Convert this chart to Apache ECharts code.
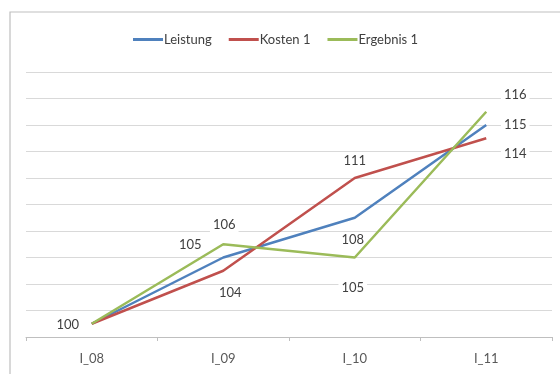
<!DOCTYPE html>
<html>
<head>
<meta charset="utf-8">
<script src="https://cdn.jsdelivr.net/npm/echarts@6/dist/echarts.min.js"></script>
<style>
  html, body { margin: 0; padding: 0; background: #ffffff; }
  #chart { width: 560px; height: 374px; }
</style>
</head>
<body>
<div id="chart"></div>
<script>
// Perioden und Indexwerte (Basis I_08 = 100)
const categories = ['I_08', 'I_09', 'I_10', 'I_11'];
const leistung = [100, 105, 108, 115];
const kosten = [100, 104, 111, 114];
const ergebnis = [100, 106, 105, 116];

const seriesNames = ['Leistung', 'Kosten 1', 'Ergebnis 1'];
const seriesColors = ['#4F81BD', '#C0504D', '#9BBB59'];

// Versatz der Wertbeschriftung gegenüber dem Datenpunkt (null = keine Beschriftung)
const labelShift = {
  'Leistung':   [[-24, 1], [-33, -13], [-2, 22], [29, 0]],
  'Kosten 1':   [null, [7, 22], [0, -17], [29, 16]],
  'Ergebnis 1': [null, [1, -19], [-2, 30], [29, -17]]
};

const fontFamily = 'Lato, "Liberation Sans", sans-serif';

const labelFont = {
  color: '#404040',
  fontFamily: fontFamily,
  fontSize: 13,
  backgroundColor: '#ffffff',
  padding: [1, 3]
};

function buildData(name, values) {
  return values.map(function (v, i) {
    const shift = labelShift[name][i];
    return {
      value: v,
      label: Object.assign({
        show: shift !== null,
        position: 'inside',
        offset: shift || [0, 0],
        formatter: '{c}'
      }, labelFont)
    };
  });
}

const valueSets = [leistung, kosten, ergebnis];

const chart = echarts.init(document.getElementById('chart'), null, { renderer: 'canvas' });

chart.setOption({
  animation: false,
  backgroundColor: '#ffffff',
  graphic: [{
    type: 'rect',
    shape: { x: 10, y: 12, width: 600, height: 420 },
    style: { fill: 'none', stroke: '#bfbfbf', lineWidth: 1.2 },
    silent: true,
    z: -1
  }],
  legend: {
    top: 28,
    left: 128,
    itemWidth: 30,
    itemHeight: 3,
    itemGap: 17,
    icon: 'rect',
    textStyle: {
      color: '#404040',
      fontFamily: fontFamily,
      fontSize: 13,
      padding: [0, 0, 0, -4]
    },
    data: seriesNames
  },
  grid: { left: 26, right: 8, top: 72, bottom: 37, containLabel: false },
  xAxis: {
    type: 'category',
    data: categories,
    boundaryGap: true,
    axisLine: { lineStyle: { color: '#bfbfbf', width: 1 } },
    axisTick: { show: true, length: 4, lineStyle: { color: '#bfbfbf' } },
    axisLabel: {
      color: '#595959',
      fontFamily: fontFamily,
      fontSize: 13,
      margin: 15
    }
  },
  yAxis: {
    type: 'value',
    min: 99,
    max: 119,
    interval: 2,
    axisLine: { show: false },
    axisTick: { show: false },
    axisLabel: { show: false },
    splitLine: { lineStyle: { color: '#d9d9d9', width: 1.2 } }
  },
  series: seriesNames.map(function (name, k) {
    return {
      name: name,
      type: 'line',
      data: buildData(name, valueSets[k]),
      symbol: 'circle',
      showSymbol: true,
      symbolSize: 0,
      color: seriesColors[k],
      lineStyle: { width: 2.5, color: seriesColors[k] },
      z: 3 + k
    };
  })
});
</script>
</body>
</html>
